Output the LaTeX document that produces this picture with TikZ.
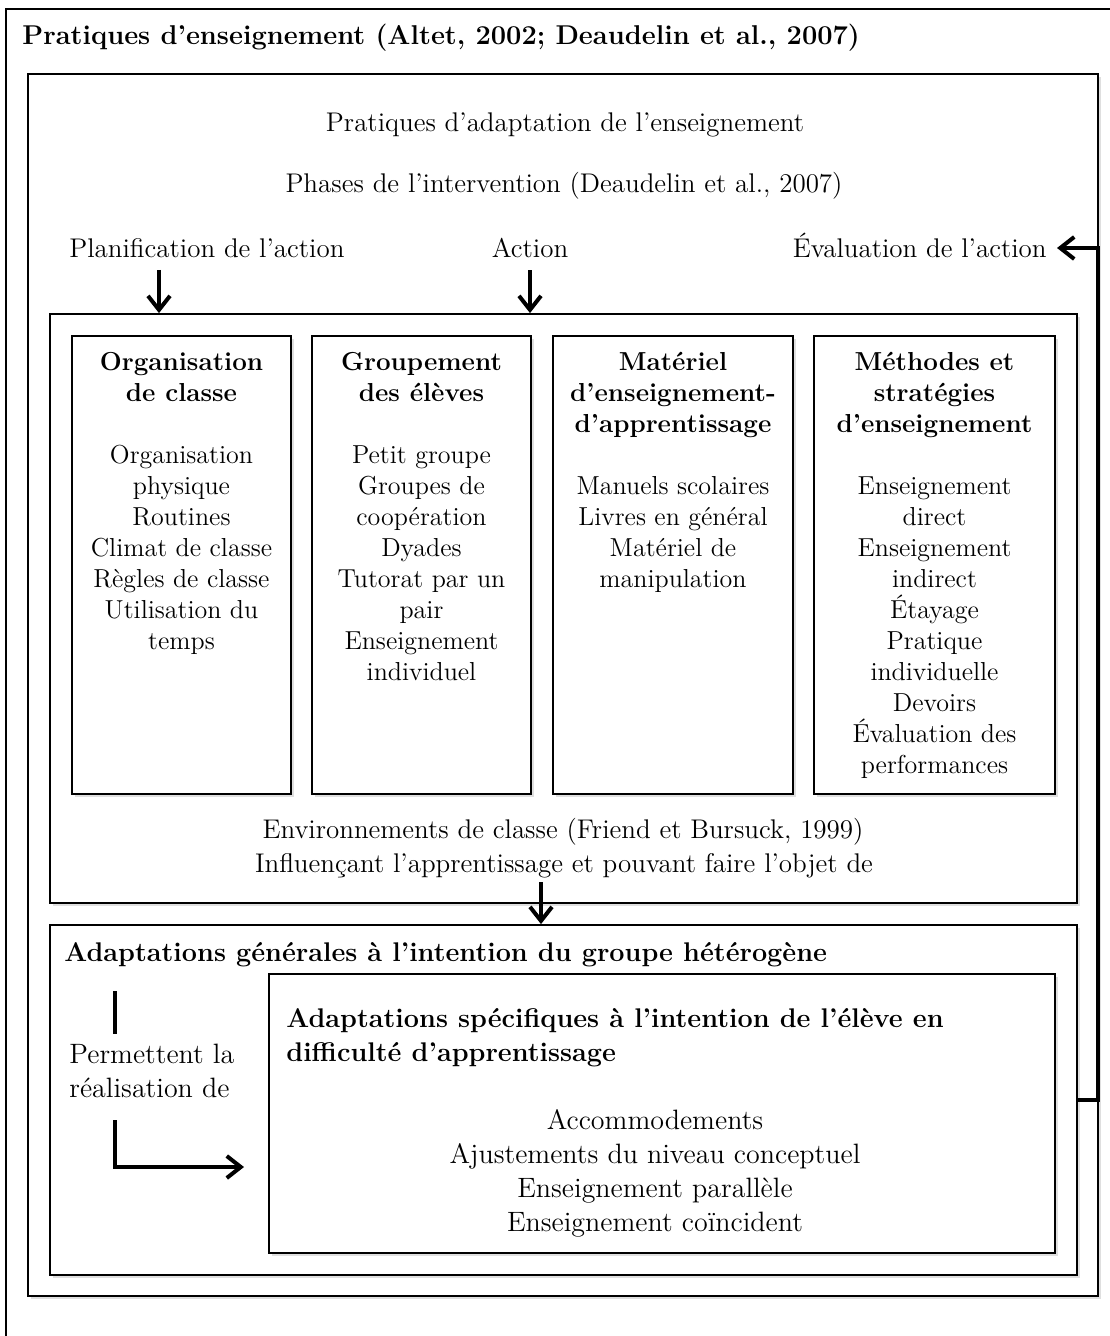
\documentclass[tikz,border=0pt]{standalone}
\usetikzlibrary{arrows.meta,fit,shadows}

\begin{document}
\begin{tikzpicture}[x=0.5pt,y=-0.5pt,
    every node/.style={inner sep=0pt},
    box/.style={draw,line width=0.9pt,fill=white,
      drop shadow={shadow xshift=1.5pt,shadow yshift=-1.5pt,opacity=0.25}},
    coltext/.style={font=\fontsize{13}{15.5}\selectfont,anchor=north,align=center},
    phase/.style={font=\fontsize{13.5}{16}\selectfont,inner xsep=5pt,text height=10pt,text depth=0pt},
    big/.style={font=\fontsize{14}{17}\selectfont},
    bigbold/.style={font=\fontsize{13.5}{17}\selectfont\bfseries},
    arr/.style={line width=2pt,-{Straight Barb[length=7pt,width=11pt,line width=2pt]}}
  ]
\useasboundingbox (0,0) rectangle (1109,1336);

% outer frame, cut by the page
\draw[line width=0.9pt] (6,1345) -- (6,9) -- (1115,9);
\node[font=\fontsize{13.6}{16}\selectfont\bfseries,anchor=base west] (titre) at (22,45)
  {Pratiques d’enseignement (Altet, 2002; Deaudelin et al., 2007)};

% practices frame
\node[box,fit={(28,74) (1098,1296)}] (cadre) {};
\node[phase,anchor=base] (pratad) at (565,132) {Pratiques d’adaptation de l’enseignement};
\node[phase,anchor=base] (phases) at (564,193) {Phases de l’intervention (Deaudelin et al., 2007)};

% the three phases
\node[phase,anchor=base west] (plan) at (59,258) {Planification de l’action};
\node[phase,anchor=base] (action) at (530,258) {Action};
\node[phase,anchor=base east] (eval) at (1057,258) {Évaluation de l’action};

% classroom environments
\node[box,fit={(50,314) (1077,903)}] (panel) {};
\node[box,fit={(72,336) (291,794)}] (orgbox) {};
\node[box,fit={(312,336) (531,794)}] (grpbox) {};
\node[box,fit={(553,336) (793,794)}] (matbox) {};
\node[box,fit={(814,336) (1055,794)}] (metbox) {};

\node[coltext] (orgtxt) at (181.5,352) {\textbf{Organisation}\\\textbf{de classe}\\[15.5pt]
  Organisation\\physique\\Routines\\Climat de classe\\Règles de classe\\Utilisation du\\temps};
\node[coltext] (grptxt) at (421.5,352) {\textbf{Groupement}\\\textbf{des élèves}\\[15.5pt]
  Petit groupe\\Groupes de\\coopération\\Dyades\\Tutorat par un\\pair\\Enseignement\\individuel};
\node[coltext] (mattxt) at (673,352) {\textbf{Matériel}\\\textbf{d’enseignement-}\\\textbf{d’apprentissage}\\[15.5pt]
  Manuels scolaires\\Livres en général\\Matériel de\\manipulation};
\node[coltext] (mettxt) at (934.5,352) {\textbf{Méthodes et}\\\textbf{stratégies}\\\textbf{d’enseignement}\\[15.5pt]
  Enseignement\\direct\\Enseignement\\indirect\\Étayage\\Pratique\\individuelle\\Devoirs\\Évaluation des\\performances};

\node[phase,anchor=base] (env) at (563,838) {Environnements de classe (Friend et Bursuck, 1999)};
\node[phase,anchor=base] (infl) at (564,872) {Influençant l’apprentissage et pouvant faire l’objet de};

% adaptations
\node[box,fit={(50,925) (1077,1275)}] (genbox) {};
\node[bigbold,anchor=base west] (gentit) at (64,961)
  {Adaptations générales à l’intention du groupe hétérogène};
\node[big,anchor=north west,align=left] (perm) at (69,1044) {Permettent la\\réalisation de};

\node[box,fit={(269,974) (1055,1253)}] (specbox) {};
\node[bigbold,anchor=north west,align=left] (spectit) at (286,1008)
  {Adaptations spécifiques à l’intention de l’élève en\\difficulté d’apprentissage};
\node[big,anchor=north,align=center] (speclist) at (655,1109)
  {Accommodements\\Ajustements du niveau conceptuel\\Enseignement parallèle\\Enseignement coïncident};

% arrows
\coordinate (planA) at (159,270);
\draw[arr] (planA) -- (planA |- panel.north);
\draw[arr] ([yshift=-6pt]action.south) -- (action.south |- panel.north);
\coordinate (versgen) at (541,882);
\draw[arr] (versgen) -- (versgen |- genbox.north);
\coordinate (retour) at (1098,1100);
\draw[arr] (genbox.east) -- (retour) |- (eval.east);

\coordinate (barA) at (115,991);
\coordinate (barB) at (115,1034);
\draw[line width=2pt] (barA) -- (barB);
\coordinate (permA) at (115,1120);
\coordinate (permB) at (244,1167);
\draw[arr] (permA) |- (permB);

\end{tikzpicture}
\end{document}
